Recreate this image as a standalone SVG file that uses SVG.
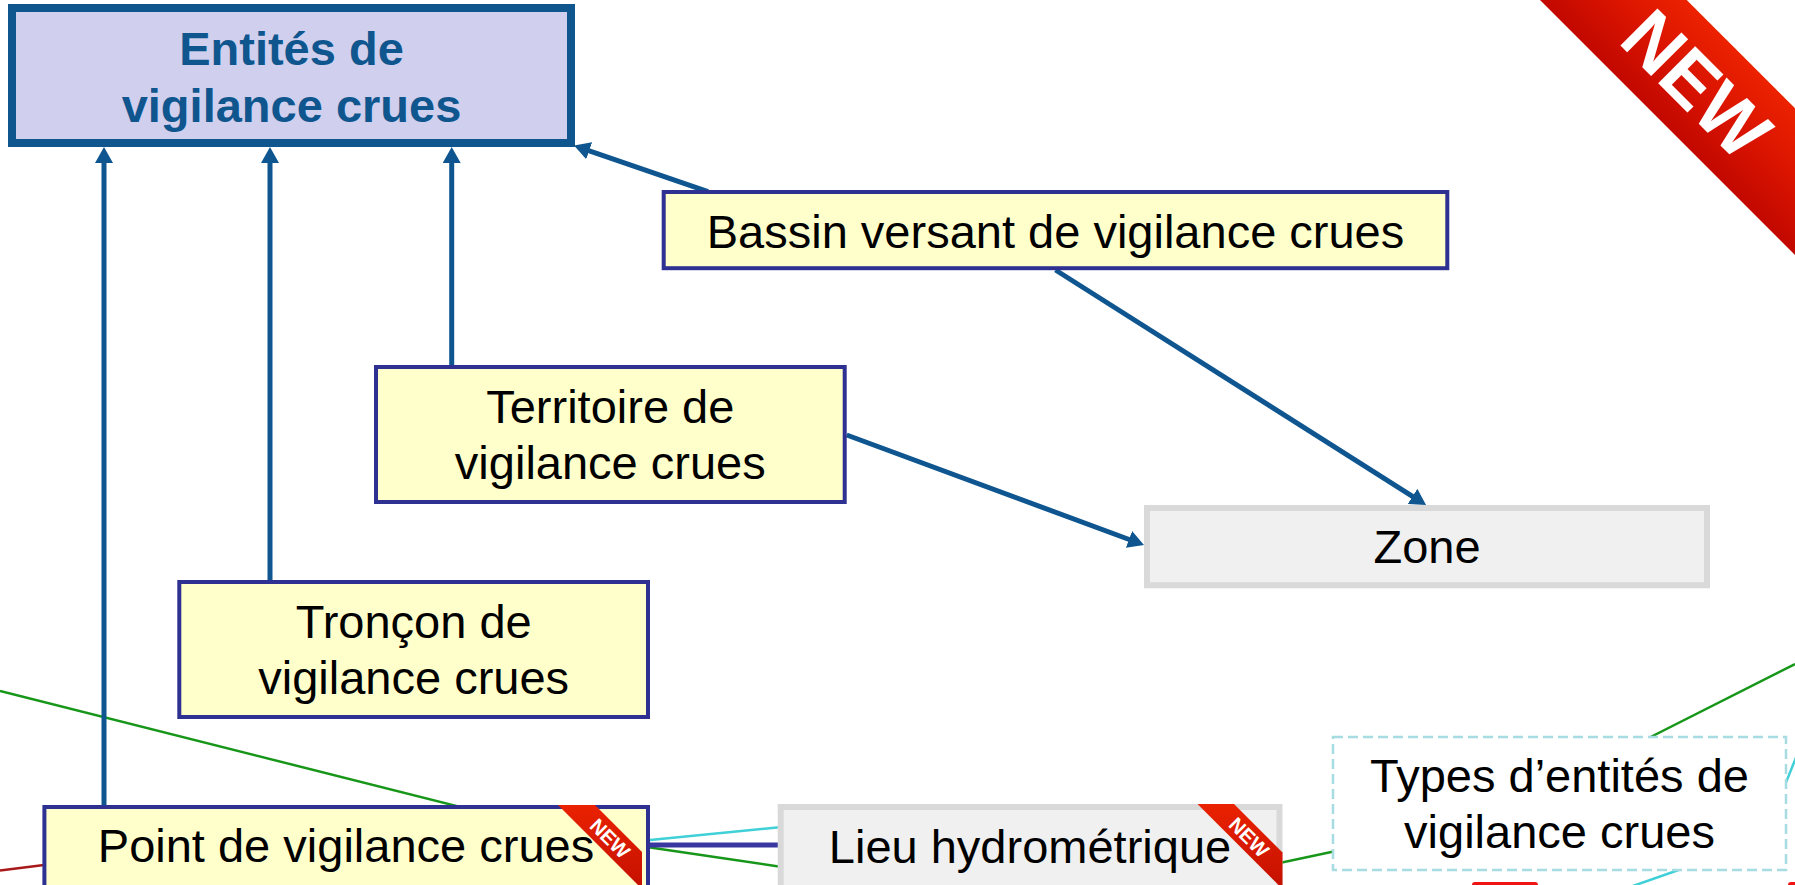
<svg xmlns="http://www.w3.org/2000/svg" width="1795" height="885" viewBox="0 0 1795 885">
<style>
text{font-family:"Liberation Sans",Arial,sans-serif;}
.lbl{font-size:47px;fill:#000;text-anchor:middle;}
.title{font-size:47px;font-weight:bold;fill:#0F568E;text-anchor:middle;}
.yel{fill:#FFFFCC;stroke:#2E3192;stroke-width:4;}
.gry{fill:#F0F0F0;stroke:#D9D9D9;stroke-width:6;}
.arr{stroke:#0F5690;stroke-width:5;fill:none;marker-end:url(#ah);}
.new{fill:#fff;font-weight:bold;text-anchor:middle;}
.grn{stroke:#17961A;stroke-width:2.5;fill:none;}
.cyn{stroke:#3FD0D8;stroke-width:2.5;fill:none;}
</style>
<defs>
<marker id="ah" markerUnits="userSpaceOnUse" markerWidth="16" markerHeight="18" refX="6" refY="9" orient="auto">
<path d="M0,0 L16,9 L0,18 z" fill="#0F5690"/>
</marker>
<linearGradient id="bigRib" gradientUnits="userSpaceOnUse" x1="1613.3" y1="73.4" x2="1686.7" y2="0">
<stop offset="0" stop-color="#C20800"/>
<stop offset="0.5" stop-color="#DA1400"/>
<stop offset="1" stop-color="#EC2200"/>
</linearGradient>
<linearGradient id="smRib" x1="0" y1="0" x2="0" y2="1">
<stop offset="0" stop-color="#EA2200"/>
<stop offset="1" stop-color="#C41000"/>
</linearGradient>
</defs>
<rect width="1795" height="885" fill="#fff"/>

<g id="connectors">
<line class="grn" x1="0" y1="691" x2="520" y2="822"/>
<line x1="0" y1="870.5" x2="60" y2="863" stroke="#A81818" stroke-width="2.5"/>
<line class="cyn" x1="640" y1="841" x2="782" y2="827"/>
<line class="grn" x1="640" y1="846" x2="782" y2="867"/>
<line x1="648" y1="845" x2="782" y2="845" stroke="#3838A0" stroke-width="5"/>
<line class="grn" x1="1270" y1="865" x2="1336" y2="851"/>
<line class="grn" x1="1620" y1="752.5" x2="1795" y2="664"/>
<line class="cyn" x1="1775" y1="810" x2="1800" y2="747.5"/>
<line class="cyn" x1="1630" y1="887" x2="1690" y2="866"/>
<line class="arr" x1="104" y1="805" x2="104" y2="157"/>
<line class="arr" x1="270" y1="580" x2="270" y2="157"/>
<line class="arr" x1="451.7" y1="365" x2="451.7" y2="157"/>
<line class="arr" x1="708" y1="191.7" x2="583.5" y2="148.8"/>
<line class="arr" x1="1055.5" y1="270" x2="1417.6" y2="499.6"/>
<line class="arr" x1="846.7" y1="435" x2="1134.6" y2="541.5"/>
</g>

<g id="entites">
<rect x="12" y="8" width="559" height="135" fill="#D0D0EE" stroke="#0F568E" stroke-width="8"/>
<text class="title" x="291.5" y="65">Entités de</text>
<text class="title" x="291.5" y="121.7">vigilance crues</text>
</g>

<g id="bassin">
<rect class="yel" x="663.7" y="192" width="783.6" height="76.2"/>
<text class="lbl" x="1055.5" y="247.5">Bassin versant de vigilance crues</text>
</g>

<g id="territoire">
<rect class="yel" x="376" y="367" width="468.7" height="135"/>
<text class="lbl" x="610.3" y="422.7">Territoire de</text>
<text class="lbl" x="610.3" y="479.3">vigilance crues</text>
</g>

<g id="zone">
<rect class="gry" x="1147" y="508" width="560" height="77.3"/>
<text class="lbl" x="1427" y="563.3">Zone</text>
</g>

<g id="troncon">
<rect class="yel" x="179.3" y="582" width="468.7" height="135"/>
<text class="lbl" x="413.7" y="637.7">Tronçon de</text>
<text class="lbl" x="413.7" y="694.3">vigilance crues</text>
</g>

<g id="point">
<rect class="yel" x="44.4" y="807" width="603.6" height="100"/>
<text class="lbl" x="346" y="862">Point de vigilance crues</text>
<polygon points="558,805 595,805 642,852 642,889" fill="url(#smRib)"/>
<text class="new" font-size="20" transform="translate(610,838.5) rotate(45)" x="0" y="7">NEW</text>
</g>

<g id="lieu">
<rect class="gry" x="780.7" y="807" width="498.8" height="100"/>
<text class="lbl" x="1030" y="862.7">Lieu hydrométrique</text>
<polygon points="1197.5,804 1234,804 1282.5,852.5 1282.5,889" fill="url(#smRib)"/>
<text class="new" font-size="20" transform="translate(1249,837.3) rotate(45)" x="0" y="7">NEW</text>
</g>

<g id="types">
<rect x="1333" y="737" width="453" height="133" fill="#fff" stroke="#A8DCE3" stroke-width="2.5" stroke-dasharray="10,5"/>
<text class="lbl" x="1559.5" y="791.7">Types d’entités de</text>
<text class="lbl" x="1559.5" y="848.3">vigilance crues</text>
</g>

<g id="bottom-marks">
<rect x="1472" y="882" width="66" height="6" rx="3" fill="#F01414"/>
<rect x="1788" y="882" width="10" height="6" rx="3" fill="#F01414"/>
</g>

<g id="new-banner">
<polygon points="1540,0 1686.7,0 1795,108.3 1795,255" fill="url(#bigRib)"/>
<text class="new" font-size="76" textLength="172" lengthAdjust="spacingAndGlyphs" transform="translate(1697,83.7) rotate(45)" x="0" y="27">NEW</text>
</g>
</svg>
